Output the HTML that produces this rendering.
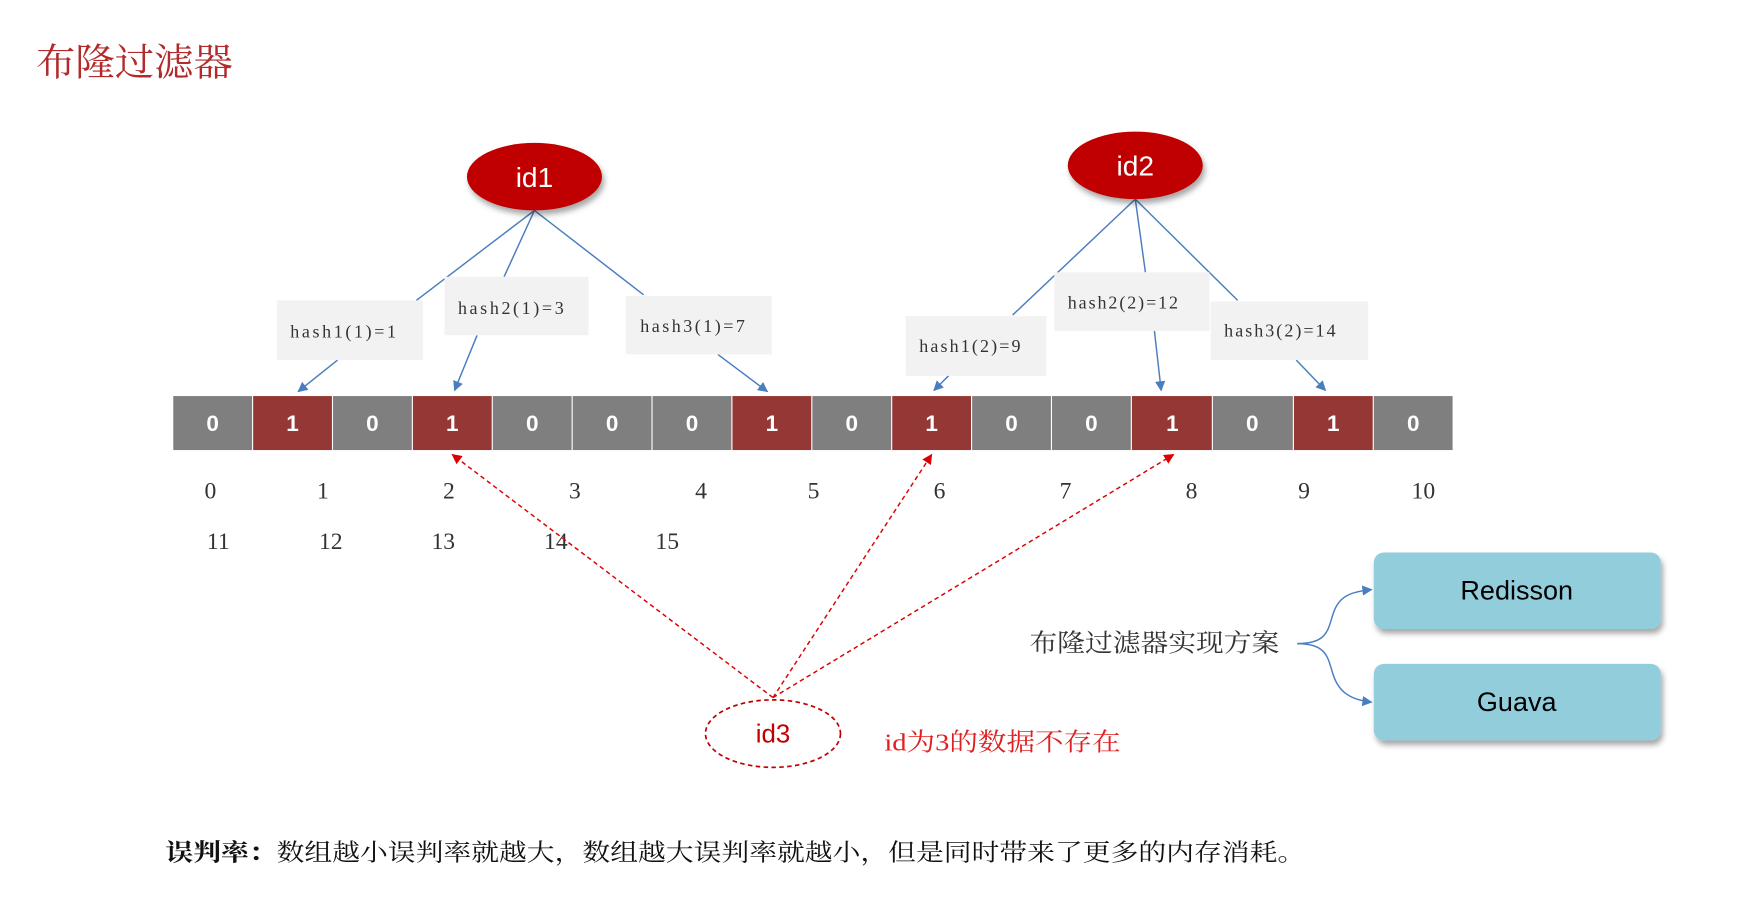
<!DOCTYPE html>
<html><head><meta charset="utf-8"><style>html,body{margin:0;padding:0;background:#fff}svg{display:block}</style></head>
<body>
<svg width="1762" height="899" viewBox="0 0 1566 799" preserveAspectRatio="none" xmlns="http://www.w3.org/2000/svg">
<defs>
<marker id="ab" viewBox="0 0 10 10" refX="9" refY="5" markerWidth="7" markerHeight="7" orient="auto"><path d="M0,0L10,5L0,10z" fill="#4a7ebf"/></marker>
<marker id="ar" viewBox="0 0 10 10" refX="9" refY="5" markerWidth="7" markerHeight="7" orient="auto"><path d="M0,0L10,5L0,10z" fill="#d00"/></marker>
<filter id="sh" x="-20%" y="-20%" width="150%" height="160%"><feDropShadow dx="2" dy="4" stdDeviation="2.5" flood-color="#000" flood-opacity="0.35"/></filter>
</defs>
<text x="32" y="67" textLength="175" lengthAdjust="spacingAndGlyphs" font-family="'Liberation Serif','Noto Serif CJK SC',serif" font-size="34" fill="#b22a2a">布隆过滤器</text>

<g stroke="#4a7ebf" stroke-width="1.3" fill="none">
<line x1="475" y1="187" x2="370" y2="267"/>
<line x1="475" y1="187" x2="448" y2="246"/>
<line x1="475" y1="187" x2="572" y2="262"/>
<line x1="1009" y1="177" x2="900" y2="280"/>
<line x1="1009" y1="177" x2="1018" y2="242"/>
<line x1="1009" y1="177" x2="1100" y2="267"/>
<line x1="300" y1="320" x2="265" y2="348" marker-end="url(#ab)"/>
<line x1="424" y1="298" x2="404" y2="347" marker-end="url(#ab)"/>
<line x1="638" y1="315" x2="682" y2="348" marker-end="url(#ab)"/>
<line x1="843" y1="334" x2="830" y2="347" marker-end="url(#ab)"/>
<line x1="1026" y1="294" x2="1032" y2="347" marker-end="url(#ab)"/>
<line x1="1152" y1="320" x2="1178" y2="347" marker-end="url(#ab)"/>
<path d="M1153,572 C1180,572 1180,560 1185,545 C1190,530 1200,526 1219,524" marker-end="url(#ab)"/>
<path d="M1153,572 C1180,572 1180,585 1185,600 C1190,615 1200,622 1219,624" marker-end="url(#ab)"/>
</g>

<ellipse cx="475" cy="157" rx="60" ry="30" fill="#c00000" filter="url(#sh)"/>
<text x="475" y="166" text-anchor="middle" font-family="'Liberation Sans',sans-serif" font-size="25" fill="#fff">id1</text>
<ellipse cx="1009" cy="147" rx="60" ry="30" fill="#c00000" filter="url(#sh)"/>
<text x="1009" y="156" text-anchor="middle" font-family="'Liberation Sans',sans-serif" font-size="25" fill="#fff">id2</text>

<g fill="#f2f2f2">
<rect x="246" y="267" width="130" height="53"/>
<rect x="395" y="246" width="128" height="52"/>
<rect x="556" y="263" width="130" height="52"/>
<rect x="805" y="281" width="125" height="53"/>
<rect x="937" y="242" width="138" height="52"/>
<rect x="1076" y="268" width="140" height="52"/>
</g>
<g font-family="'Liberation Serif',serif" font-size="16" fill="#333" lengthAdjust="spacingAndGlyphs">
<text x="258" y="300" textLength="94">hash1(1)=1</text>
<text x="407" y="279" textLength="94">hash2(1)=3</text>
<text x="569" y="295" textLength="93">hash3(1)=7</text>
<text x="817" y="313" textLength="90">hash1(2)=9</text>
<text x="949" y="274" textLength="98">hash2(2)=12</text>
<text x="1088" y="299" textLength="99">hash3(2)=14</text>
</g>

<g>
<rect x="154" y="352" width="70" height="48" fill="#7f7f7f"/>
<rect x="225" y="352" width="70" height="48" fill="#953735"/>
<rect x="296" y="352" width="70" height="48" fill="#7f7f7f"/>
<rect x="367" y="352" width="70" height="48" fill="#953735"/>
<rect x="438" y="352" width="70" height="48" fill="#7f7f7f"/>
<rect x="509" y="352" width="70" height="48" fill="#7f7f7f"/>
<rect x="580" y="352" width="70" height="48" fill="#7f7f7f"/>
<rect x="651" y="352" width="70" height="48" fill="#953735"/>
<rect x="722" y="352" width="70" height="48" fill="#7f7f7f"/>
<rect x="793" y="352" width="70" height="48" fill="#953735"/>
<rect x="864" y="352" width="70" height="48" fill="#7f7f7f"/>
<rect x="935" y="352" width="70" height="48" fill="#7f7f7f"/>
<rect x="1006" y="352" width="71" height="48" fill="#953735"/>
<rect x="1078" y="352" width="71" height="48" fill="#7f7f7f"/>
<rect x="1150" y="352" width="70" height="48" fill="#953735"/>
<rect x="1221" y="352" width="70" height="48" fill="#7f7f7f"/>
</g>
<g font-family="'Liberation Sans',sans-serif" font-size="20" font-weight="bold" fill="#fff" text-anchor="middle">
<text x="189" y="383">0</text><text x="260" y="383">1</text><text x="331" y="383">0</text><text x="402" y="383">1</text>
<text x="473" y="383">0</text><text x="544" y="383">0</text><text x="615" y="383">0</text><text x="686" y="383">1</text>
<text x="757" y="383">0</text><text x="828" y="383">1</text><text x="899" y="383">0</text><text x="970" y="383">0</text>
<text x="1042" y="383">1</text><text x="1113" y="383">0</text><text x="1185" y="383">1</text><text x="1256" y="383">0</text>
</g>
<g font-family="'Liberation Serif',serif" font-size="21" fill="#333" text-anchor="middle">
<text x="187" y="443">0</text><text x="287" y="443">1</text><text x="399" y="443">2</text><text x="511" y="443">3</text>
<text x="623" y="443">4</text><text x="723" y="443">5</text><text x="835" y="443">6</text><text x="947" y="443">7</text>
<text x="1059" y="443">8</text><text x="1159" y="443">9</text><text x="1265" y="443">10</text>
<text x="194" y="488">11</text><text x="294" y="488">12</text><text x="394" y="488">13</text><text x="494" y="488">14</text><text x="593" y="488">15</text>
</g>

<g stroke="#d00" stroke-width="1.3" stroke-dasharray="4,3" fill="none">
<line x1="687" y1="620" x2="402" y2="404" marker-end="url(#ar)"/>
<line x1="687" y1="620" x2="828" y2="404" marker-end="url(#ar)"/>
<line x1="687" y1="620" x2="1043" y2="404" marker-end="url(#ar)"/>
<ellipse cx="687" cy="652" rx="60" ry="30" stroke="#c00000" stroke-width="1.5"/>
</g>
<text x="687" y="660" text-anchor="middle" font-family="'Liberation Sans',sans-serif" font-size="23" fill="#c00000">id3</text>
<text x="786" y="667" textLength="210" lengthAdjust="spacingAndGlyphs" font-family="'Liberation Serif','Noto Serif CJK SC',serif" font-size="22" fill="#e02020">id为3的数据不存在</text>

<text x="915" y="579" textLength="222" lengthAdjust="spacingAndGlyphs" font-family="'Liberation Serif','Noto Serif CJK SC',serif" font-size="22" fill="#333">布隆过滤器实现方案</text>
<rect x="1221" y="491" width="255" height="68" rx="9" fill="#92cddc" filter="url(#sh)"/>
<text x="1348" y="533" text-anchor="middle" font-family="'Liberation Sans',sans-serif" font-size="24" fill="#000">Redisson</text>
<rect x="1221" y="590" width="255" height="68" rx="9" fill="#92cddc" filter="url(#sh)"/>
<text x="1348" y="632" text-anchor="middle" font-family="'Liberation Sans',sans-serif" font-size="24" fill="#000">Guava</text>

<text x="147" y="765" textLength="1013" lengthAdjust="spacingAndGlyphs" font-family="'Liberation Serif','Noto Serif CJK SC',serif" font-size="21" fill="#111"><tspan font-weight="bold">误判率：</tspan>数组越小误判率就越大，数组越大误判率就越小，但是同时带来了更多的内存消耗。</text>
</svg>
</body></html>
